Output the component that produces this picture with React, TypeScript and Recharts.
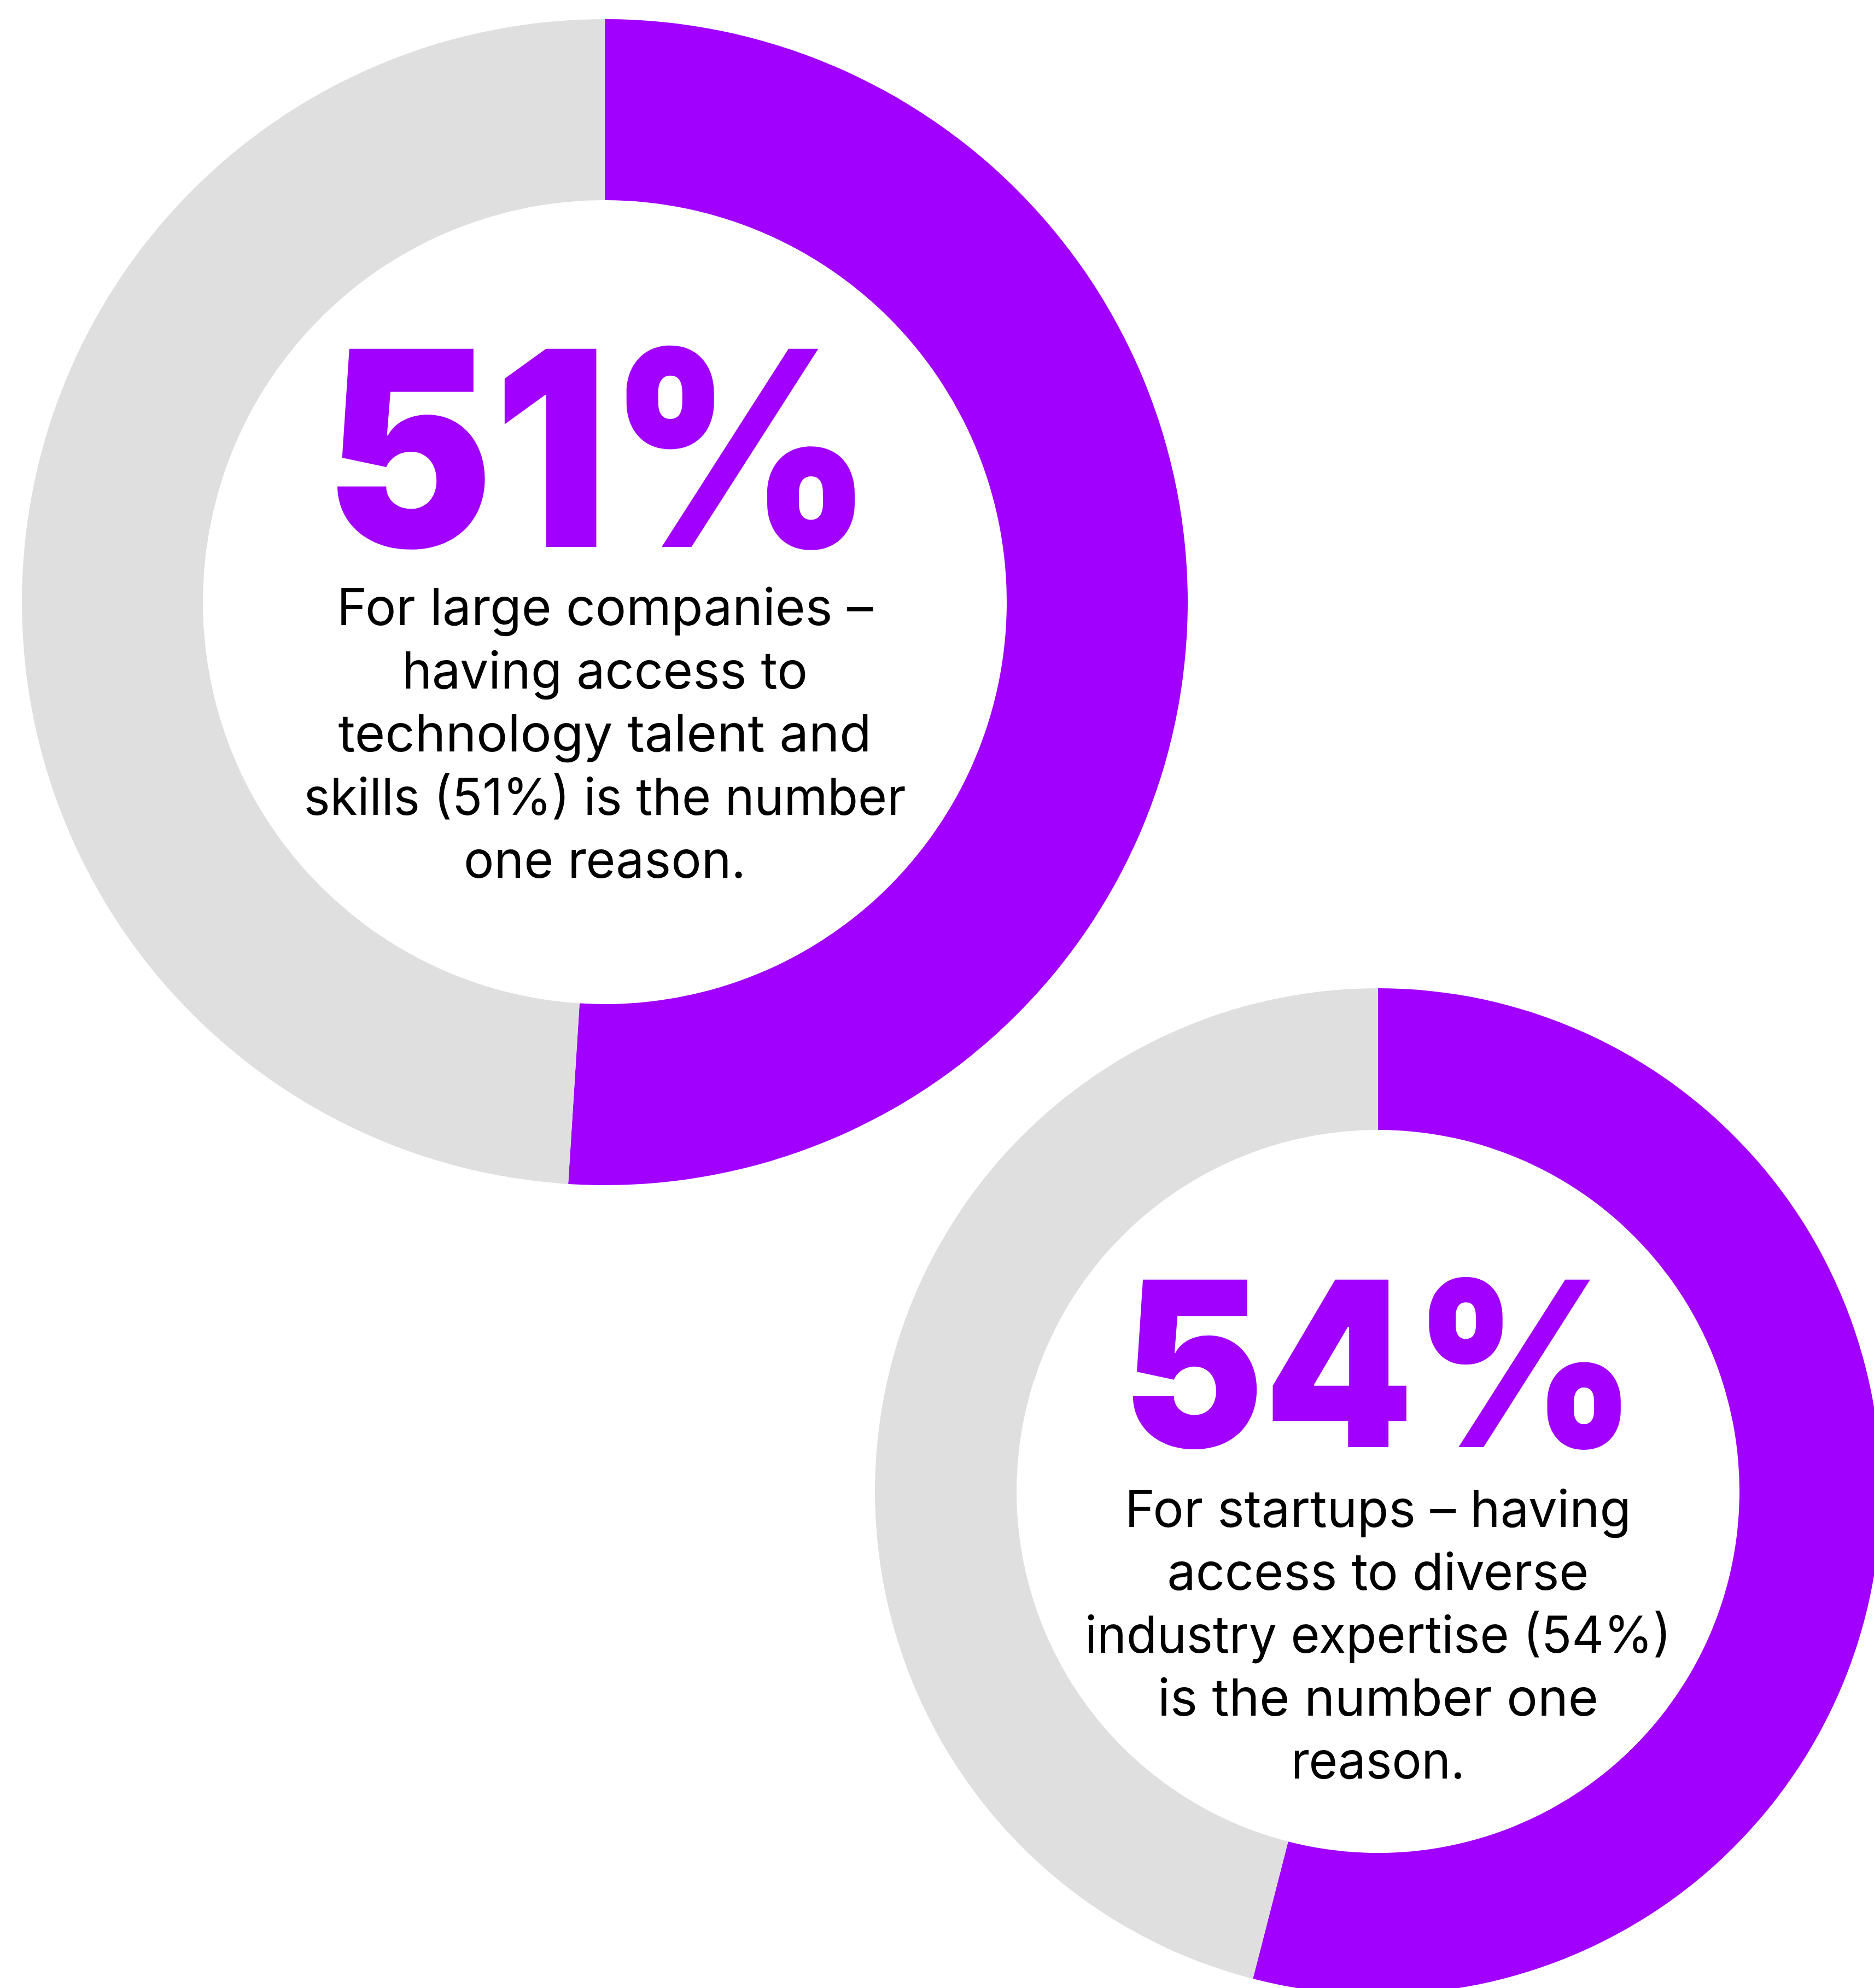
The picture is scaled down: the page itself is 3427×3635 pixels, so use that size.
import React from 'react';
import { PieChart, Pie, Cell, Customized } from 'recharts';

const segments = ['Number one reason', 'Other'];
const largeCompanies = [51, 49];
const startups = [54, 46];
const largeLines = [
  'For large companies –',
  'having access to',
  'technology talent and',
  'skills (51%) is the number',
  'one reason.',
];
const startupLines = [
  'For startups – having',
  'access to diverse',
  'industry expertise (54%)',
  'is the number one',
  'reason.',
];

const PURPLE = '#A100FF';
const GREY = '#DFDFDF';
const COLORS = [PURPLE, GREY];

const largeData = segments.map((name, i) => ({ name, value: largeCompanies[i] }));
const startupData = segments.map((name, i) => ({ name, value: startups[i] }));

const W = 3427;
const H = 3635;

const C1 = { cx: 1106, cy: 1101, inner: 735, outer: 1066 };
const C2 = { cx: 2520, cy: 2727, inner: 661, outer: 920 };

const largeWidths = [980, 742, 975, 1101, 516];
const startupWidths = [926, 771, 1072, 806, 318];

const BODY_FONT = 'Inter, "Noto Sans", "Liberation Sans", sans-serif';

function Texts() {
  return (
    <g>
      <text
        x={1095}
        y={1000}
        textAnchor="middle"
        fill={PURPLE}
        fontFamily={BODY_FONT}
        fontWeight={900}
        fontSize={498}
        textLength={1003}
        lengthAdjust="spacingAndGlyphs"
      >
        {`${largeCompanies[0]}%`}
      </text>
      {largeLines.map((l, i) => (
        <text
          key={'a' + i}
          x={1106}
          y={1143 + i * 115.5}
          textAnchor="middle"
          fill="#000"
          fontFamily={BODY_FONT}
          fontWeight={400}
          fontSize={94}
          textLength={largeWidths[i]}
          lengthAdjust="spacingAndGlyphs"
        >
          {l}
        </text>
      ))}
      <text
        x={2522}
        y={2646}
        textAnchor="middle"
        fill={PURPLE}
        fontFamily={BODY_FONT}
        fontWeight={900}
        fontSize={421}
        textLength={940}
        lengthAdjust="spacingAndGlyphs"
      >
        {`${startups[0]}%`}
      </text>
      {startupLines.map((l, i) => (
        <text
          key={'b' + i}
          x={2520}
          y={2792 + i * 115}
          textAnchor="middle"
          fill="#000"
          fontFamily={BODY_FONT}
          fontWeight={400}
          fontSize={94}
          textLength={startupWidths[i]}
          lengthAdjust="spacingAndGlyphs"
        >
          {l}
        </text>
      ))}
    </g>
  );
}

export default function App() {
  return (
    <div style={{ position: 'absolute', left: 0, top: 0, width: W, height: H, background: '#fff', overflow: 'hidden' }}>
      <PieChart width={W} height={H} margin={{ top: 0, right: 0, bottom: 0, left: 0 }}>
        <Pie
          data={largeData}
          dataKey="value"
          nameKey="name"
          cx={C1.cx}
          cy={C1.cy}
          innerRadius={C1.inner}
          outerRadius={C1.outer}
          startAngle={90}
          endAngle={-270}
          stroke="none"
          isAnimationActive={false}
        >
          {largeData.map((d, i) => (
            <Cell key={d.name} fill={COLORS[i]} />
          ))}
        </Pie>
        <Pie
          data={startupData}
          dataKey="value"
          nameKey="name"
          cx={C2.cx}
          cy={C2.cy}
          innerRadius={C2.inner}
          outerRadius={C2.outer}
          startAngle={90}
          endAngle={-270}
          stroke="none"
          isAnimationActive={false}
        >
          {startupData.map((d, i) => (
            <Cell key={d.name} fill={COLORS[i]} />
          ))}
        </Pie>
        <Customized component={Texts} />
      </PieChart>
    </div>
  );
}
